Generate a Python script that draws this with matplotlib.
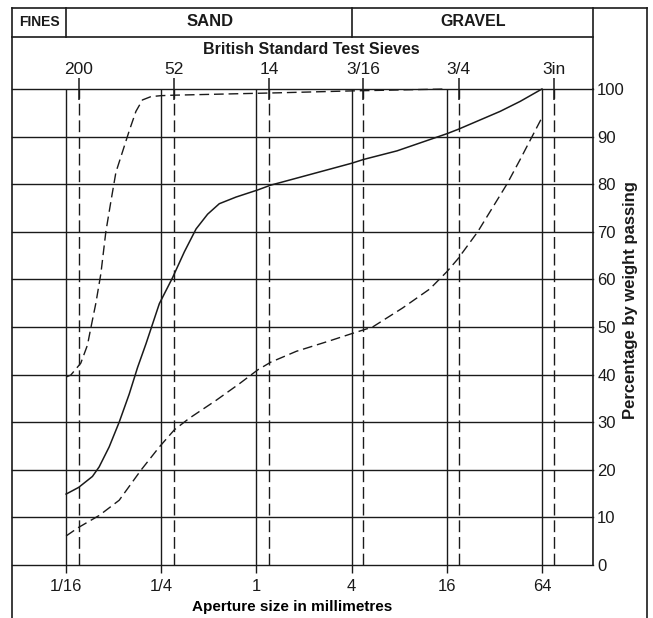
import matplotlib.pyplot as plt
from matplotlib.lines import Line2D

plt.rcParams['font.family'] = ['Liberation Sans', 'DejaVu Sans']

# aperture size (mm) and percentage passing
fine_size = [0.0625, 0.0669, 0.0774, 0.0853, 0.0896, 0.0964, 0.1037, 0.1115, 0.1199, 0.1291,
             0.1421, 0.1567, 0.1728, 0.19, 0.215, 0.249, 0.30, 1.38, 4.0, 16.0]
fine_pct = [39.5, 39.9, 42.4, 46.2, 49.8, 55, 61.2, 70, 76.3, 82.5,
            86.8, 91.2, 95.3, 97.7, 98.4, 98.6, 98.7, 99.2, 99.6, 100]

mid_size = [0.0625, 0.075, 0.0917, 0.1011, 0.117, 0.1354, 0.1567, 0.177, 0.2002, 0.243,
            0.294, 0.35, 0.415, 0.491, 0.582, 0.743, 1.02, 1.23, 1.40, 4.0,
            4.76, 7.74, 16.0, 18.8, 34.8, 46.6, 64.0]
mid_pct = [14.9, 16.3, 18.6, 20.6, 24.8, 30, 35.9, 41.5, 46.5, 54.9,
           60.3, 65.8, 70.6, 73.7, 75.9, 77.3, 78.8, 79.8, 80.3, 84.4,
           85.2, 87, 90.6, 91.5, 95.3, 97.4, 100]

coarse_size = [0.0625, 0.075, 0.1011, 0.1354, 0.1857, 0.243, 0.3025, 0.375, 0.556, 0.781,
               1.02, 1.23, 1.79, 2.91, 4.0, 5.43, 8.41, 12.5, 16.0, 18.8,
               25.1, 38.4, 46.6, 55.4, 64.0]
coarse_pct = [6.1, 7.9, 10.4, 13.6, 19.9, 24.8, 28.4, 30.8, 34.6, 38.1,
              41, 42.6, 44.9, 47.1, 48.6, 50, 54, 58, 61.6, 64.3,
              70, 80, 85.2, 90, 94]

mm_ticks = [1/16, 1/4, 1, 4, 16, 64]
mm_labels = ['1/16', '1/4', '1', '4', '16', '64']
sieve_sizes = [0.075, 0.300, 1.20, 4.75, 19.05, 76.2]
sieve_labels = ['200', '52', '14', '3/16', '3/4', '3in']
pct_ticks = list(range(0, 101, 10))

W, H = 653, 618
ink = '#1a1a1a'


def fx(x):
    return x / W


def fy(y):
    return 1 - y / H


fig = plt.figure(figsize=(W / 100, H / 100), dpi=100)
ax = fig.add_axes([fx(12), fy(565), (593 - 12) / W, (565 - 89) / H])
ax.set_xscale('log', base=2)
ax.set_xlim(0.02842, 134.6)
ax.set_ylim(0, 100)

for p in pct_ticks:
    ax.axhline(p, color=ink, lw=1.0, zorder=1, clip_on=False)
for m in mm_ticks:
    ax.axvline(m, color=ink, lw=1.0, zorder=1)
for s in sieve_sizes:
    ax.axvline(s, color=ink, lw=1.0, ls=(0, (8.5, 3.5)), zorder=1)
# short solid sieve marks crossing the top line
ax.vlines(sieve_sizes, 97.6, 102.4, color=ink, lw=1.1, zorder=2, clip_on=False)

ax.plot(fine_size, fine_pct, color=ink, lw=1.0, ls=(0, (7, 3.5)), zorder=3, clip_on=False)
ax.plot(mid_size, mid_pct, color=ink, lw=1.1, zorder=3, clip_on=False)
ax.plot(coarse_size, coarse_pct, color=ink, lw=1.0, ls=(0, (7, 3.5)), zorder=3)

for side in ['top', 'left', 'bottom']:
    ax.spines[side].set_visible(False)
ax.spines['right'].set_linewidth(1.2)
ax.spines['right'].set_color(ink)

ax.yaxis.tick_right()
ax.set_yticks(pct_ticks)
ax.set_yticklabels([str(p) for p in pct_ticks])
ax.tick_params(axis='y', length=0, pad=3, labelsize=12, colors=ink)

ax.set_xticks(mm_ticks)
ax.set_xticklabels(mm_labels)
ax.xaxis.set_minor_locator(plt.NullLocator())
ax.tick_params(axis='x', direction='out', length=6, width=1.0, pad=4, labelsize=12, colors=ink)

top = ax.secondary_xaxis('top')
top.set_xticks(sieve_sizes)
top.set_xticklabels(sieve_labels)
top.xaxis.set_minor_locator(plt.NullLocator())
top.tick_params(length=0, pad=8.5, labelsize=12.5, colors=ink)
top.spines['top'].set_visible(False)

ax.set_xlabel('Aperture size in millimetres', fontsize=11, fontweight='bold')
ax.xaxis.set_label_coords((292 - 12) / (593 - 12), -(600 - 565) / (565 - 89))

# frame and header table
frame = [
    ((12, 12), (8, 618)),
    ((647, 647), (8, 618)),
    ((12, 647), (8, 8)),
    ((12, 593), (37, 37)),
    ((66, 66), (8, 37)),
    ((352, 352), (8, 37)),
    ((593, 593), (8, 89)),
]
for xs, ys in frame:
    fig.add_artist(Line2D([fx(v) for v in xs], [fy(v) for v in ys], color=ink, lw=1.2))

fig.text(fx(39), fy(22), 'FINES', ha='center', va='center', fontsize=10, fontweight='bold', color=ink)
fig.text(fx(210), fy(22), 'SAND', ha='center', va='center', fontsize=12, fontweight='bold', color=ink)
fig.text(fx(473), fy(22), 'GRAVEL', ha='center', va='center', fontsize=11.5, fontweight='bold', color=ink)
fig.text(fx(311), fy(49), 'British Standard Test Sieves', ha='center', va='center',
         fontsize=11.5, fontweight='bold', color=ink)
fig.text(fx(630), fy(300), 'Percentage by weight passing', ha='center', va='center',
         rotation=90, fontsize=12, fontweight='bold', color=ink)

fig.savefig('out.png', dpi=100, facecolor='white')
